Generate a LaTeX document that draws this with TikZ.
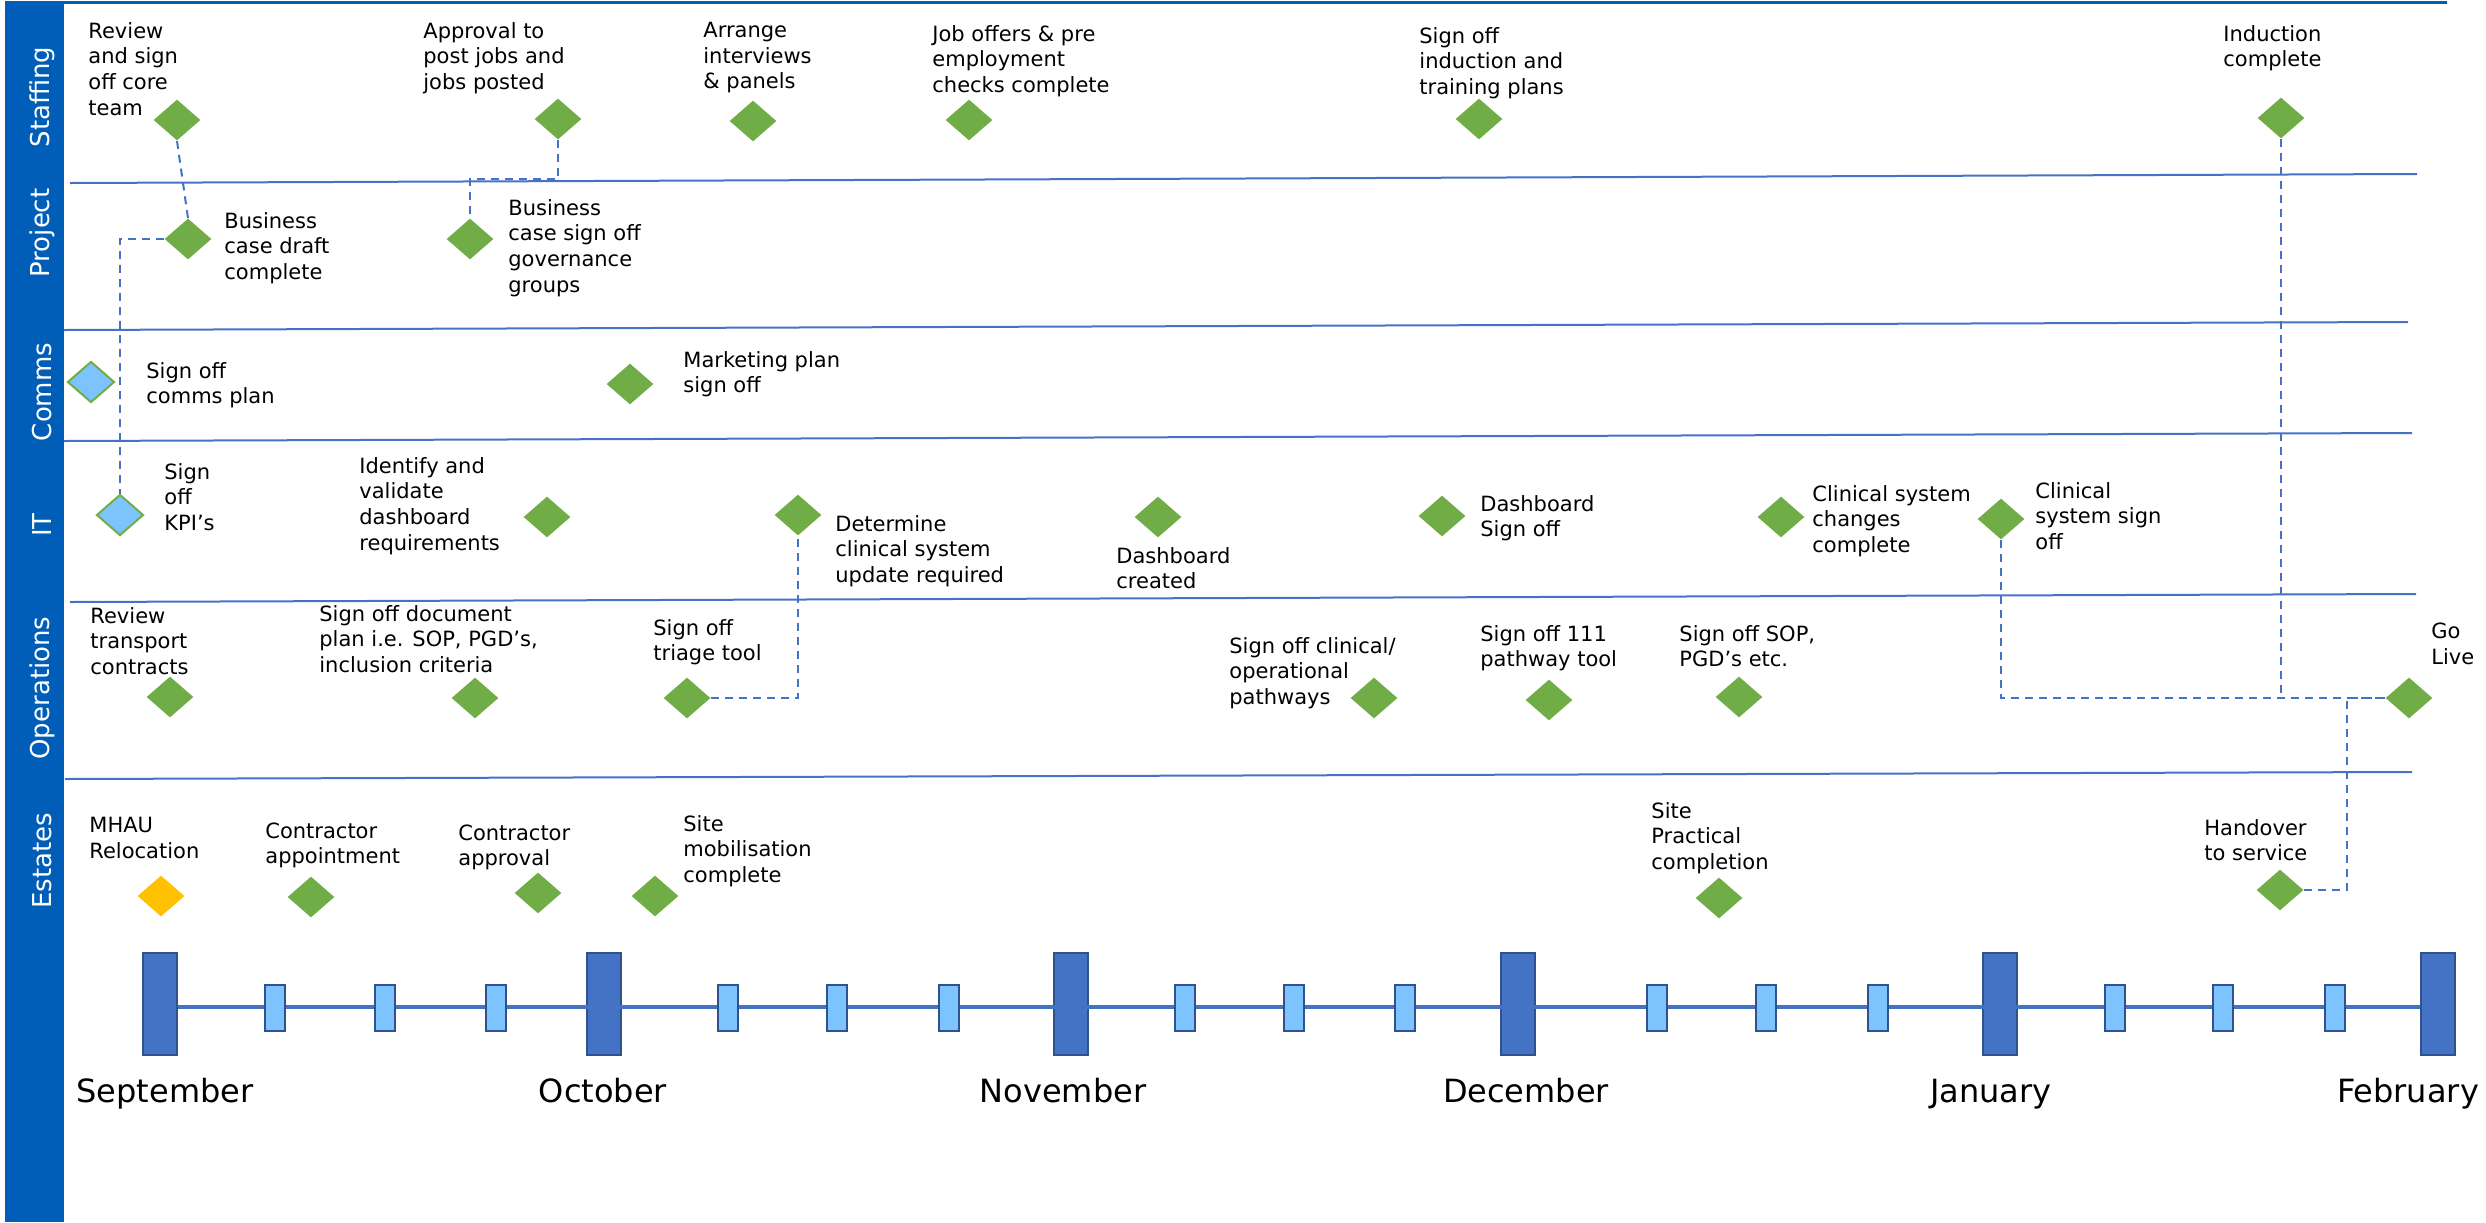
\documentclass[tikz,border=0pt]{standalone}
\usepackage{fontspec}
\setmainfont{DejaVu Sans}
\usetikzlibrary{shapes.geometric}
\definecolor{nhsblue}{RGB}{0,94,184}
\definecolor{laneblue}{HTML}{4472C4}
\definecolor{darkblue}{HTML}{2F528F}
\definecolor{weekblue}{RGB}{125,196,255}
\definecolor{msgreen}{HTML}{70AD47}
\definecolor{msgold}{HTML}{FFC000}

\begin{document}
\begin{tikzpicture}[x=0.5pt, y=-0.5pt, line cap=butt, line join=miter,
  ms/.style={diamond, fill=msgreen, minimum width=23.5pt, minimum height=20.5pt, inner sep=0pt},
  msopen/.style={ms, fill=weekblue, draw=msgreen, line width=1pt},
  msyellow/.style={ms, fill=msgold},
  lbl/.style={anchor=north west, align=left, inner sep=0pt, font=\fontsize{10.5}{12.8}\selectfont},
  lane/.style={rotate=90, text=white, inner sep=0pt, font=\fontsize{13}{15}\selectfont},
  dlink/.style={laneblue, line width=1pt, dash pattern=on 4pt off 3pt},
  lanesep/.style={laneblue, line width=1pt},
  monthbox/.style={rectangle, fill=laneblue, draw=darkblue, line width=1pt, minimum width=17pt, minimum height=51pt, inner sep=0pt},
  weekbox/.style={rectangle, fill=weekblue, draw=darkblue, line width=1.2pt, minimum width=10pt, minimum height=23pt, inner sep=0pt},
  mlbl/.style={anchor=base, inner sep=0pt, font=\fontsize{16}{19}\selectfont}]

\useasboundingbox (0,0) rectangle (2486,1222);

% --- Side bar and lane titles ---
\fill[nhsblue] (5,4) rectangle (64,1222);
\draw[nhsblue, line width=1.5pt] (5,2) -- (2447,2);
\node[lane] (lstaff) at (42,97)  {Staffing};
\node[lane] (lproj)  at (42,233) {Project};
\node[lane] (lcomms) at (42,392) {Comms};
\node[lane] (lit)    at (42,525) {IT};
\node[lane] (lops)   at (42,688) {Operations};
\node[lane] (lest)   at (42,861) {Estates};

% --- Lane separators ---
\draw[lanesep] (70,183) -- (2417,174);
\draw[lanesep] (64,330) -- (2408,322);
\draw[lanesep] (64,441) -- (2412,433);
\draw[lanesep] (70,602) -- (2416,594);
\draw[lanesep] (65,779) -- (2412,772);

% --- Staffing ---
\node[ms] (d1) at (177,120) {};
\node[ms] (d2) at (558,119) {};
\node[ms] (d3) at (753,121) {};
\node[ms] (d4) at (969,120) {};
\node[ms] (d5) at (1479,119) {};
\node[ms] (d6) at (2281,118) {};
\node[lbl] (t1) at (88,22)   {Review\\and sign\\off core\\team};
\node[lbl] (t2) at (423,22)  {Approval to\\post jobs and\\jobs posted};
\node[lbl] (t3) at (703,22)  {Arrange\\interviews\\\& panels};
\node[lbl] (t4) at (932,25)  {Job offers \& pre\\employment\\checks complete};
\node[lbl] (t5) at (1419,27) {Sign off\\induction and\\training plans};
\node[lbl] (t6) at (2223,25) {Induction\\complete};

% --- Project ---
\node[ms] (d7) at (188,239) {};
\node[ms] (d8) at (470,239) {};
\node[lbl] (t7) at (224,212) {Business\\case draft\\complete};
\node[lbl] (t8) at (508,199) {Business\\case sign off\\governance\\groups};

% --- Comms ---
\node[msopen] (d9) at (91,382) {};
\node[ms] (d10) at (630,384) {};
\node[lbl] (t9)  at (146,362) {Sign off\\comms plan};
\node[lbl] (t10) at (683,351) {Marketing plan\\sign off};

% --- IT ---
\node[msopen] (d11) at (120,515) {};
\node[ms] (d12) at (547,517) {};
\node[ms] (d13) at (798,515) {};
\node[ms] (d14) at (1158,517) {};
\node[ms] (d15) at (1442,516) {};
\node[ms] (d16) at (1781,517) {};
\node[ms] (d17) at (2001,519) {};
\node[lbl] (t11) at (164,463)  {Sign\\off\\KPI’s};
\node[lbl] (t12) at (359,457)  {Identify and\\validate\\dashboard\\requirements};
\node[lbl] (t13) at (835,515)  {Determine\\clinical system\\update required};
\node[lbl] (t14) at (1116,547) {Dashboard\\created};
\node[lbl] (t15) at (1480,495) {Dashboard\\Sign off};
\node[lbl] (t16) at (1812,485) {Clinical system\\changes\\complete};
\node[lbl] (t17) at (2035,482) {Clinical\\system sign\\off};

% --- Operations ---
\node[ms] (d18) at (170,697) {};
\node[ms] (d19) at (475,698) {};
\node[ms] (d20) at (687,698) {};
\node[ms] (d21) at (1374,698) {};
\node[ms] (d22) at (1549,700) {};
\node[ms] (d23) at (1739,697) {};
\node[ms] (d24) at (2409,698) {};
\node[lbl] (t18) at (90,607)   {Review\\transport\\contracts};
\node[lbl] (t19) at (319,605)  {Sign off document\\plan i.e. SOP, PGD’s,\\inclusion criteria};
\node[lbl] (t20) at (653,619)  {Sign off\\triage tool};
\node[lbl] (t21) at (1229,637) {Sign off clinical/\\operational\\pathways};
\node[lbl] (t22) at (1480,625) {Sign off 111\\pathway tool};
\node[lbl] (t23) at (1679,625) {Sign off SOP,\\PGD’s etc.};
\node[lbl] (t24) at (2431,623) {Go\\Live};

% --- Estates ---
\node[msyellow] (d25) at (161,896) {};
\node[ms] (d26) at (311,897) {};
\node[ms] (d27) at (538,893) {};
\node[ms] (d28) at (655,896) {};
\node[ms] (d29) at (1719,898) {};
\node[ms] (d30) at (2280,890) {};
\node[lbl] (t25) at (89,817)   {MHAU\\Relocation};
\node[lbl] (t26) at (265,822)  {Contractor\\appointment};
\node[lbl] (t27) at (458,824)  {Contractor\\approval};
\node[lbl] (t28) at (683,815)  {Site\\mobilisation\\complete};
\node[lbl] (t29) at (1651,802) {Site\\Practical\\completion};
\node[lbl] (t30) at (2204,819) {Handover\\to service};

% --- Dependencies ---
\draw[dlink] (d1.south) -- (d7.north);
\draw[dlink] (d7.west) -| (d11.north);
\draw[dlink] (d2.south) -- ++(0,39) -| (d8.north);
\draw[dlink] (d20.east) -| (d13.south);
\draw[dlink] (d17.south) |- (d24.west);
\draw[dlink] (d6.south) -- (d6.south |- d24.west);
\draw[dlink] (d30.east) -- ++(43,0) |- (d24.west);

% --- Timeline ---
\node[monthbox] (msep) at (160,1004) {};
\node[monthbox] (moct) at (604,1004) {};
\node[monthbox] (mnov) at (1071,1004) {};
\node[monthbox] (mdec) at (1518,1004) {};
\node[monthbox] (mjan) at (2000,1004) {};
\node[monthbox] (mfeb) at (2438,1004) {};
\draw[laneblue, line width=2pt] (msep.east |- 0,1007) -- (mfeb.west |- 0,1007);
\foreach \x [count=\i] in {275,385,496,728,837,949,1185,1294,1405,1657,1766,1878,2115,2223,2335}
  \node[weekbox] (w\i) at (\x,1008) {};
\node[mlbl] (lsep) at (165,1102)  {September};
\node[mlbl] (loct) at (603,1102)  {October};
\node[mlbl] (lnov) at (1063,1102) {November};
\node[mlbl] (ldec) at (1526,1102) {December};
\node[mlbl] (ljan) at (1991,1102) {January};
\node[mlbl] (lfeb) at (2408,1102) {February};

\end{tikzpicture}
\end{document}
